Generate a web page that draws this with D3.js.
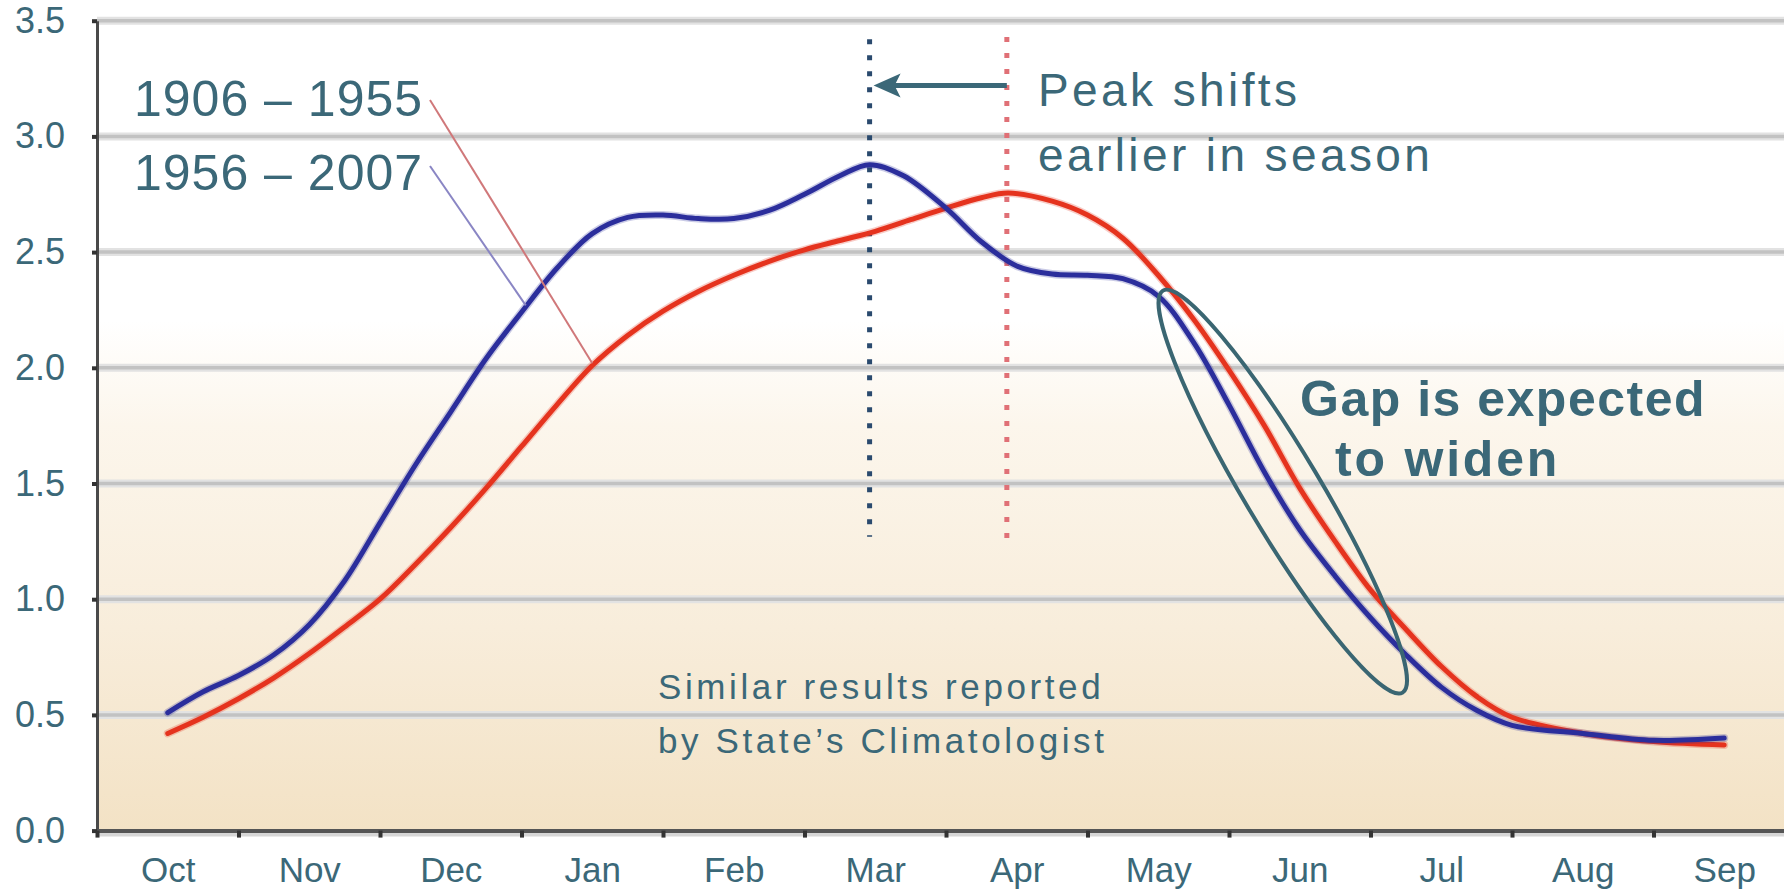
<!DOCTYPE html>
<html><head><meta charset="utf-8">
<script src="https://cdn.jsdelivr.net/npm/d3@7"></script>
<style>
html,body{margin:0;padding:0;background:#fff;}
svg{display:block;font-family:"Liberation Sans",Arial,Helvetica,sans-serif;}
</style>
</head><body>
<svg id="chart" width="1784" height="892"></svg>
<script>
// ---------------- data ----------------
const months = ["Oct","Nov","Dec","Jan","Feb","Mar","Apr","May","Jun","Jul","Aug","Sep"];
const yTickValues = [0, 0.5, 1.0, 1.5, 2.0, 2.5, 3.0, 3.5];
// positions in months (0 = start of Oct, 0.5 = mid Oct ...) and values
const pos1906 = [0.5,0.75,1.0,1.25,1.5,1.75,2.0,2.25,2.5,2.75,3.0,3.25,3.5,3.75,4.0,4.25,4.5,4.75,5.0,5.25,5.5,5.75,6.0,6.25,6.44,6.75,7.0,7.25,7.5,7.75,8.0,8.25,8.5,8.75,9.0,9.25,9.5,9.75,10.0,10.5,11.0,11.5];
const flow1906_1955 = [0.42,0.49,0.57,0.66,0.765,0.88,1.00,1.15,1.31,1.48,1.66,1.84,2.01,2.14,2.245,2.33,2.40,2.46,2.51,2.55,2.59,2.64,2.69,2.735,2.755,2.72,2.66,2.56,2.40,2.21,1.99,1.75,1.48,1.25,1.04,0.87,0.71,0.58,0.49,0.42,0.385,0.37];
const pos1956 = [0.5,0.75,1.0,1.25,1.5,1.75,2.0,2.25,2.5,2.75,3.0,3.25,3.5,3.75,4.0,4.25,4.5,4.75,5.0,5.25,5.46,5.7,6.0,6.25,6.5,6.75,7.0,7.25,7.5,7.75,8.0,8.25,8.5,8.75,9.0,9.25,9.5,9.75,10.0,10.5,11.0,11.5];
const flow1956_2007 = [0.51,0.60,0.67,0.76,0.89,1.08,1.33,1.58,1.81,2.04,2.24,2.43,2.58,2.65,2.66,2.645,2.645,2.68,2.75,2.83,2.878,2.83,2.69,2.545,2.44,2.405,2.40,2.385,2.31,2.11,1.84,1.55,1.30,1.10,0.92,0.76,0.62,0.52,0.455,0.42,0.39,0.40];
const seriesNames = ["1906 – 1955", "1956 – 2007"];
const peakPos1906 = 6.43;   // month position of the 1906-1955 peak
const peakPos1956 = 5.46;   // month position of the 1956-2007 peak
const notePeak = ["Peak shifts", "earlier in season"];
const noteGap = ["Gap is expected", "to widen"];
const noteSource = ["Similar results reported", "by State\u2019s Climatologist"];

// ---------------- layout ----------------
(function () {
const W = 1784, H = 892;
const plotLeft = 97, bandW = 141.5, plotBottom = 830.6, plotTop = 20.7;
const teal = "#3b6878";
const blue = "#2b2e9c", red = "#e5331e";

const svg = d3.select("#chart");
const x = d3.scaleLinear().domain([0, 12]).range([plotLeft, plotLeft + 12 * bandW]);
const y = d3.scaleLinear().domain([0, 3.5]).range([plotBottom, plotTop]);

const defs = svg.append("defs");
const grad = defs.append("linearGradient").attr("id", "bg")
  .attr("gradientUnits", "userSpaceOnUse")
  .attr("x1", 0).attr("x2", 0).attr("y1", y(3.5)).attr("y2", y(0));
[[0, "#ffffff"], [0.37, "#ffffff"], [0.5, "#fcf6ec"], [0.75, "#f8eddb"], [1, "#f3e2c5"]]
  .forEach(([o, c]) => grad.append("stop").attr("offset", o).attr("stop-color", c));

// plot background
svg.append("rect").attr("x", x(0)).attr("y", y(3.5))
  .attr("width", W - x(0)).attr("height", y(0) - y(3.5)).attr("fill", "url(#bg)");

// gridlines
const grid = svg.append("g");
yTickValues.filter(v => v > 0).forEach(v => {
  grid.append("line").attr("x1", x(0)).attr("x2", W).attr("y1", y(v)).attr("y2", y(v))
    .attr("stroke", "#e2e2e2").attr("stroke-width", 8);
  grid.append("line").attr("x1", x(0)).attr("x2", W).attr("y1", y(v)).attr("y2", y(v))
    .attr("stroke", "#c2c2c2").attr("stroke-width", 3.5);
});

// x-axis shadow
svg.append("line").attr("x1", x(0)).attr("x2", W).attr("y1", y(0) + 4).attr("y2", y(0) + 4)
  .attr("stroke", "#d6d6d6").attr("stroke-width", 4);

// y axis
const yAxis = svg.append("g").attr("transform", `translate(${x(0)},0)`)
  .call(d3.axisLeft(y).tickValues(yTickValues).tickFormat(d3.format(".1f")).tickSize(5).tickSizeOuter(0).tickPadding(27));
yAxis.select(".domain").attr("stroke", "#4a4a4a").attr("stroke-width", 3);
yAxis.selectAll(".tick line").attr("stroke", "#333").attr("stroke-width", 4);
yAxis.selectAll(".tick text").attr("fill", teal).attr("font-size", 36)
  .attr("font-family", "'Liberation Sans', Arial, sans-serif");

// x axis (ticks at month boundaries)
const xAxis = svg.append("g").attr("transform", `translate(0,${y(0)})`)
  .call(d3.axisBottom(x).tickValues(d3.range(0, 13)).tickFormat("").tickSize(7).tickSizeOuter(0));
xAxis.select(".domain").attr("stroke", "#555").attr("stroke-width", 4);
xAxis.selectAll(".tick line").attr("stroke", "#333").attr("stroke-width", 4);

// month labels at band centres
const xLab = svg.append("g").attr("transform", `translate(0,${y(0)})`)
  .call(d3.axisBottom(x).tickValues(months.map((m, i) => i + 0.5))
    .tickFormat(d => months[Math.floor(d)]).tickSize(0));
xLab.select(".domain").remove();
xLab.selectAll(".tick text").attr("fill", teal).attr("font-size", 35)
  .attr("font-family", "'Liberation Sans', Arial, sans-serif")
  .attr("y", 51).attr("dy", 0);

// dotted peak lines
function peakLine(pos, v0, v1, color) {
  svg.append("line").attr("x1", x(pos)).attr("x2", x(pos)).attr("y1", y(v0)).attr("y2", y(v1))
    .attr("stroke", color).attr("stroke-width", 5).attr("stroke-dasharray", "5,11");
}
peakLine(peakPos1956, 3.42, 1.27, "#2a4a6e");
peakLine(peakPos1906, 3.43, 1.23, "#e07076");

// curves
const line = d3.line().x(d => x(d[0])).y(d => y(d[1])).curve(d3.curveCatmullRom.alpha(0.5));
const s1906 = pos1906.map((p, i) => [p, flow1906_1955[i]]);
const s1956 = pos1956.map((p, i) => [p, flow1956_2007[i]]);
[[s1906, red], [s1956, blue]].forEach(([d, c]) => {
  svg.append("path").datum(d).attr("d", line).attr("fill", "none")
    .attr("stroke", c).attr("stroke-opacity", 0.25).attr("stroke-width", 8)
    .attr("stroke-linecap", "round").attr("stroke-linejoin", "round");
  svg.append("path").datum(d).attr("d", line).attr("fill", "none")
    .attr("stroke", c).attr("stroke-width", 5)
    .attr("stroke-linecap", "round").attr("stroke-linejoin", "round");
});

// series labels + leader lines
const lab = svg.append("g").attr("fill", teal).attr("font-size", 50).attr("letter-spacing", 1);
lab.append("text").attr("x", 134).attr("y", 116).text(seriesNames[0]);
lab.append("text").attr("x", 134).attr("y", 190).text(seriesNames[1]);
svg.append("line").attr("x1", 430).attr("y1", 100).attr("x2", x(3.5)).attr("y2", y(2.02))
  .attr("stroke", "#d0787a").attr("stroke-width", 2);
svg.append("line").attr("x1", 430).attr("y1", 166).attr("x2", x(3.03)).attr("y2", y(2.27))
  .attr("stroke", "#8a86c4").attr("stroke-width", 2);

// arrow from old peak to new peak
const ay = y(3.22);
const ax0 = x(peakPos1906), ax1 = x(peakPos1956) + 4;
svg.append("line").attr("x1", ax0).attr("x2", ax1 + 20).attr("y1", ay).attr("y2", ay)
  .attr("stroke", teal).attr("stroke-width", 5);
svg.append("path").attr("d", `M${ax1},${ay} L${ax1 + 27},${ay - 12} L${ax1 + 21},${ay} L${ax1 + 27},${ay + 12} Z`)
  .attr("fill", teal);

// peak note
const np = svg.append("g").attr("fill", teal).attr("font-size", 46).attr("letter-spacing", 3.4);
np.append("text").attr("x", 1038).attr("y", 106).text(notePeak[0]);
np.append("text").attr("x", 1038).attr("y", 171).text(notePeak[1]);

// gap ellipse + note
svg.append("ellipse").attr("cx", 0).attr("cy", 0).attr("rx", 234).attr("ry", 38)
  .attr("transform", `translate(${x(8.38)},${y(1.465)}) rotate(59.2)`)
  .attr("fill", "none").attr("stroke", "#3a6672").attr("stroke-width", 4);
const ng = svg.append("g").attr("fill", teal).attr("font-size", 50).attr("font-weight", "bold");
ng.append("text").attr("x", 1300).attr("y", 416).attr("letter-spacing", 1.5).text(noteGap[0]);
ng.append("text").attr("x", 1335).attr("y", 476).attr("letter-spacing", 2.8).text(noteGap[1]);

// source note
const ns = svg.append("g").attr("fill", teal).attr("font-size", 35).attr("letter-spacing", 3.6);
ns.append("text").attr("x", 658).attr("y", 699).text(noteSource[0]);
ns.append("text").attr("x", 658).attr("y", 753).text(noteSource[1]);
})();
</script>
</body></html>
